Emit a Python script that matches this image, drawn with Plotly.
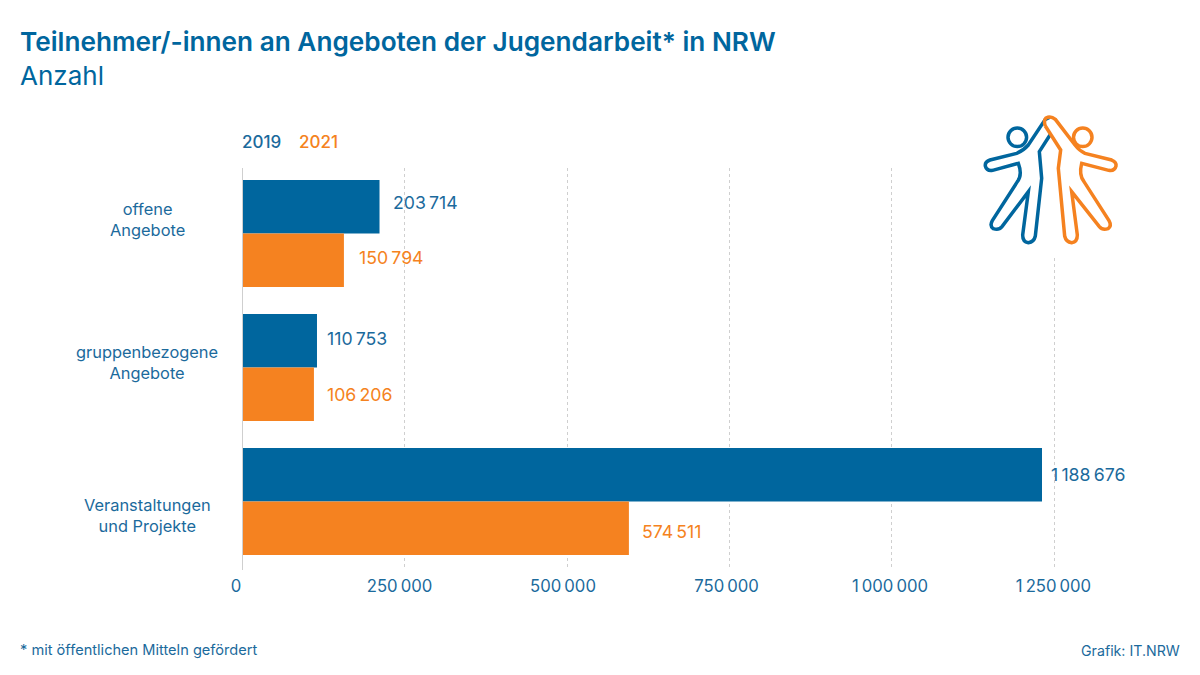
import plotly.graph_objects as go

W, H = 1200, 675
FONT = "Inter"
BLUE = "#00669e"
ORANGE = "#f58220"
BLUE_TEXT = "#1b6a9c"
ORANGE_TEXT = "#f58220"
GREY = "#cfcfcf"

categories = ["offene<br>Angebote", "gruppenbezogene<br>Angebote", "Veranstaltungen<br>und Projekte"]
series_names = ["2019", "2021"]
values_2019 = [203714, 110753, 1188676]
values_2021 = [150794, 106206, 574511]
labels_2019 = ["203\u2009714", "110\u2009753", "1\u2009188\u2009676"]
labels_2021 = ["150\u2009794", "106\u2009206", "574\u2009511"]
tick_values = [0, 250000, 500000, 750000, 1000000, 1250000]
tick_labels = ["0", "250\u2009000", "500\u2009000", "750\u2009000", "1\u2009000\u2009000", "1\u2009250\u2009000"]

# Plot frame in pixels
LEFT, RIGHT, TOP, BOTTOM = 242.5, 1150.0, 168.0, 570.0
# Bars, grid lines and tick labels each follow their own slightly different scale
BAR_PX_PER_UNIT = 799.5 / 1188676
GRID_PX_PER_UNIT = 811.5 / 1250000
LABEL_PX_PER_UNIT = 817.5 / 1250000
LABEL_LEFT = 236.0


def px(x):
    return x / W


def py(y):
    return 1 - y / H


def icon_path(points):
    """Build an outline from (x, y) pairs given at three times pixel size."""
    out = []
    for cmd, *coords in points:
        parts = []
        for x, y in coords:
            parts.append(f"{px(960 + x / 3):.5f},{py(100 + y / 3):.5f}")
        out.append(cmd + " ".join(parts))
    return " ".join(out)


blue_body = [
    ("M", (268, 52)), ("L", (256, 58)), ("L", (205, 135)), ("Q", (190, 152), (170, 160)),
    ("L", (90, 180)), ("Q", (74, 186), (76, 198)), ("Q", (80, 214), (98, 211)),
    ("L", (175, 190)), ("Q", (188, 225), (172, 245)), ("L", (97, 362)),
    ("Q", (88, 378), (100, 386)), ("Q", (116, 392), (126, 380)), ("L", (205, 275)),
    ("L", (188, 405)), ("Q", (188, 426), (205, 428)), ("Q", (222, 426), (226, 408)),
    ("L", (245, 235)), ("L", (238, 155)), ("L", (270, 105)),
]
orange_body = [
    ("M", (256, 78)), ("Q", (250, 62), (258, 54)), ("Q", (272, 46), (286, 58)),
    ("L", (345, 135)), ("Q", (358, 152), (375, 160)), ("L", (455, 180)),
    ("Q", (470, 186), (468, 198)), ("Q", (464, 214), (446, 211)), ("L", (365, 190)),
    ("Q", (356, 225), (372, 245)), ("L", (447, 362)), ("Q", (456, 378), (444, 386)),
    ("Q", (428, 392), (418, 380)), ("L", (335, 275)), ("L", (352, 405)),
    ("Q", (352, 426), (335, 428)), ("Q", (318, 426), (314, 408)), ("L", (295, 205)),
    ("L", (302, 150)), ("L", (256, 78)),
]

ICON_W = 3.5
shapes = [
    # Clear panel behind the figures
    dict(type="rect", xref="paper", yref="paper", x0=px(960), x1=px(1130), y0=py(100), y1=py(258),
         fillcolor="white", line_width=0, layer="above"),
    dict(type="circle", xref="paper", yref="paper", x0=px(1008), x1=px(1026.6), y0=py(146.6), y1=py(128),
         line=dict(color=BLUE, width=ICON_W), layer="above"),
    dict(type="circle", xref="paper", yref="paper", x0=px(1073.5), x1=px(1092), y0=py(146.6), y1=py(128),
         line=dict(color=ORANGE, width=ICON_W), layer="above"),
    dict(type="path", xref="paper", yref="paper", path=icon_path(blue_body),
         line=dict(color=BLUE, width=ICON_W), layer="above"),
    dict(type="path", xref="paper", yref="paper", path=icon_path(orange_body),
         line=dict(color=ORANGE, width=ICON_W), layer="above"),
]

fig = go.Figure()
fig.add_bar(name=series_names[0], y=categories, x=values_2019, orientation="h",
            marker=dict(color=BLUE, line_width=0), xaxis="x", yaxis="y")
fig.add_bar(name=series_names[1], y=categories, x=values_2021, orientation="h",
            marker=dict(color=ORANGE, line_width=0), xaxis="x", yaxis="y")
# Empty traces that carry the grid axis and the tick label axis
for axis in ("x2", "x3"):
    fig.add_scatter(x=tick_values, y=[categories[0]] * len(tick_values), mode="none",
                    hoverinfo="skip", showlegend=False, xaxis=axis, yaxis="y")

annotations = []


def text(x, y, s, size, color, anchor="left", weight=None, **kw):
    annotations.append(dict(xref="paper", yref="paper", x=px(x), y=py(y), text=s, showarrow=False,
                            xanchor=anchor, yanchor="middle", xshift=0, borderpad=0,
                            font=dict(family=FONT, size=size, color=color, weight=weight or 400), **kw))


text(19, 42, "Teilnehmer/-innen an Angeboten der Jugendarbeit* in NRW", 26.2, BLUE, weight=600)
text(19, 75, "Anzahl", 26, BLUE)
text(241, 142, series_names[0], 17, BLUE_TEXT, weight=500)
text(298, 142, series_names[1], 17, ORANGE_TEXT, weight=500)
text(19, 650, "* mit öffentlichen Mitteln gefördert", 14.6, BLUE_TEXT)
text(1181, 650, "Grafik: IT.NRW", 14.2, BLUE_TEXT, anchor="right")

# Category names, centred in their column
label_centres = [219, 362, 515]
for cat, yc in zip(categories, label_centres):
    annotations.append(dict(xref="paper", yref="paper", x=px(147), y=py(yc), text=cat, showarrow=False,
                            xanchor="center", yanchor="middle", align="center",
                            font=dict(family=FONT, size=16.4, color=BLUE_TEXT)))

# Value labels next to each bar
shift_2019 = [11.5, 8, 7]
shift_2021 = [13.5, 11.5, 11]
lift_2019 = [4.5, 2, 0]
lift_2021 = [3, 0, -3]
for i in range(len(categories)):
    annotations.append(dict(xref="x", yref="y", x=values_2019[i], y=i - 0.2, text=labels_2019[i],
                            showarrow=False, xanchor="left", yanchor="middle",
                            xshift=shift_2019[i], yshift=lift_2019[i],
                            font=dict(family=FONT, size=17.7, color=BLUE_TEXT)))
    annotations.append(dict(xref="x", yref="y", x=values_2021[i], y=i + 0.2, text=labels_2021[i],
                            showarrow=False, xanchor="left", yanchor="middle",
                            xshift=shift_2021[i], yshift=lift_2021[i],
                            font=dict(family=FONT, size=17.7, color=ORANGE_TEXT)))

plot_w = RIGHT - LEFT
step = 134.0
first_center = 233.5
fig.update_layout(
    width=W, height=H, autosize=False, showlegend=False,
    margin=dict(l=0, r=0, t=0, b=0, pad=0, autoexpand=False),
    paper_bgcolor="white", plot_bgcolor="rgba(0,0,0,0)",
    barmode="group", bargap=0.2, bargroupgap=0,
    xaxis=dict(domain=[px(LEFT), px(RIGHT)], range=[0, plot_w / BAR_PX_PER_UNIT], visible=False,
               fixedrange=True, anchor="y", automargin=False),
    xaxis2=dict(domain=[px(LEFT), px(RIGHT)], range=[0, plot_w / GRID_PX_PER_UNIT], overlaying="x",
                anchor="y", side="bottom", tickmode="array", tickvals=tick_values,
                showticklabels=False, showgrid=True, gridcolor=GREY, griddash="3px,3px", gridwidth=1,
                zeroline=False, showline=False, ticks="", automargin=False),
    xaxis3=dict(domain=[px(LABEL_LEFT), px(RIGHT)], range=[0, (RIGHT - LABEL_LEFT) / LABEL_PX_PER_UNIT],
                anchor="y", side="bottom", tickmode="array", tickvals=tick_values,
                ticktext=tick_labels, showgrid=False, zeroline=False, showline=False, ticks="",
                ticklabelstandoff=4, automargin=False,
                tickfont=dict(family=FONT, size=16.7, color=BLUE_TEXT)),
    yaxis=dict(domain=[py(BOTTOM), py(TOP)], type="category", categoryorder="array", categoryarray=categories,
               range=[(BOTTOM - first_center) / step, (TOP - first_center) / step],
               showticklabels=False, ticks="", showgrid=False, zeroline=False, automargin=False,
               showline=True, linecolor=GREY, linewidth=1, anchor="x"),
    shapes=shapes, annotations=annotations,
)

fig.write_html("out.html", config={"displayModeBar": False})
